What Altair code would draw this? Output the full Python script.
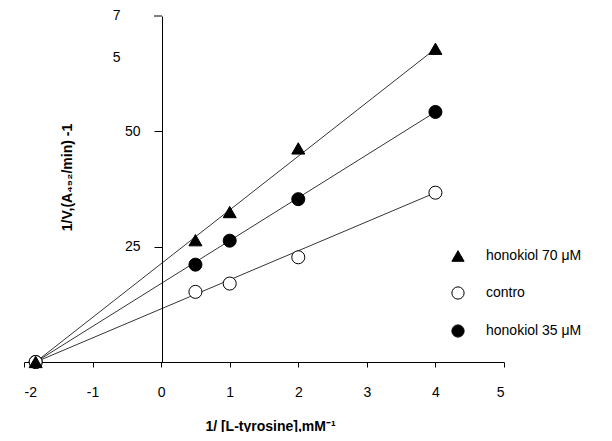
import altair as alt
import pandas as pd

# Data (Lineweaver-Burk plot)
series_names = ["honokiol 35 \u03bcM", "contro", "honokiol 70 \u03bcM"]
x_inv_s = [-1.83, 0.5, 1, 2, 4]
y_35 = [0, 21.1, 26.3, 35.3, 54.2]
y_ctrl = [0, 15.2, 17.0, 22.7, 36.7]
y_70 = [0, 26.4, 32.5, 46.3, 67.9]

# fitted line endpoints (x-intercept to last point)
line_x = [-1.83, 4]
line_35 = [0, 54.2]
line_ctrl = [0, 36.7]
line_70 = [0, 67.9]

legend_order = ["honokiol 70 \u03bcM", "contro", "honokiol 35 \u03bcM"]
shape_range = ["triangle-up", "circle", "circle"]
fill_range = ["black", "white", "black"]
stroke_range = ["black", "black", "black"]

x_ticks = [-2, -1, 0, 1, 2, 3, 4, 5]
y_ticks = [25, 50, 75]

# odd scanned labels near the top of the y axis
ann_text = ["7", "5"]
ann_x = [-0.65, -0.65]
ann_y = [75, 65.8]

rows = []
for name, ys in zip(series_names, [y_35, y_ctrl, y_70]):
    for xv, yv in zip(x_inv_s, ys):
        rows.append({"series": name, "x": xv, "y": yv})
pts = pd.DataFrame(rows)

lrows = []
for name, ys in zip(series_names, [line_35, line_ctrl, line_70]):
    for xv, yv in zip(line_x, ys):
        lrows.append({"series": name, "x": xv, "y": yv})
lines = pd.DataFrame(lrows)

ann = pd.DataFrame({"t": ann_text, "x": ann_x, "y": ann_y})

xscale = alt.Scale(domain=[-2, 5], nice=False, zero=False)
yscale = alt.Scale(domain=[0, 75], nice=False)

xaxis = alt.Axis(
    values=x_ticks, grid=False, domainColor="black", tickColor="black",
    tickSize=5, labelPadding=18, labelFontSize=14, labelColor="black",
    labelFont="Liberation Sans", labelExpr="'' + datum.value",
    title="1/ [L-tyrosine],mM\u207b\u00b9",
    titleFont="Liberation Sans", titleFontSize=14, titleFontWeight="bold",
    titleColor="black", titleX=246, titleY=64, titleBaseline="middle",
)
yaxis = alt.Axis(
    values=[25, 50], grid=False, domainColor="black", tickColor="black",
    tickSize=8, labelPadding=14, labelFontSize=14, labelColor="black",
    labelFont="Liberation Sans", offset=-138,
    title="1/V,(A\u2084\u2089\u2082/min) -1", titleFont="Liberation Sans",
    titleFontSize=14, titleFontWeight="bold", titleColor="black",
    titleX=-95, titleY=161, titleAngle=-90, titleAlign="center",
    titleBaseline="middle",
)

line_layer = alt.Chart(lines).mark_line(color="black", strokeWidth=0.8).encode(
    x=alt.X("x:Q", scale=xscale, axis=xaxis),
    y=alt.Y("y:Q", scale=yscale, axis=yaxis),
    detail="series:N",
)

# y tick at 75 without label
tick75 = alt.Chart(pd.DataFrame({"y": [75]})).mark_rule(color="black").encode(
    y=alt.Y("y:Q", scale=yscale),
    x=alt.value(130), x2=alt.value(138),
)

legend = alt.Legend(
    title=None, orient="none", legendX=427, legendY=233,
    symbolSize=150, labelFontSize=14, labelFont="Liberation Sans",
    labelColor="black", rowPadding=20, labelOffset=21,
    symbolStrokeWidth=1,
)

point_layer = alt.Chart(pts).mark_point(
    size=170, strokeWidth=1, opacity=1
).encode(
    x=alt.X("x:Q", scale=xscale),
    y=alt.Y("y:Q", scale=yscale),
    shape=alt.Shape("series:N", scale=alt.Scale(domain=legend_order, range=shape_range), legend=legend),
    fill=alt.Fill("series:N", scale=alt.Scale(domain=legend_order, range=fill_range), legend=legend),
    stroke=alt.Stroke("series:N", scale=alt.Scale(domain=legend_order, range=stroke_range), legend=legend),
)

ann_layer = alt.Chart(ann).mark_text(
    fontSize=14, font="Liberation Sans", color="black", align="center", baseline="middle"
).encode(
    x=alt.X("x:Q", scale=xscale),
    y=alt.Y("y:Q", scale=yscale),
    text="t:N",
)

chart = alt.layer(line_layer, tick75, point_layer, ann_layer).properties(
    width=480, height=346,
    autosize=alt.AutoSizeParams(type="none"),
    padding={"left": 16, "top": 8, "right": 100, "bottom": 70},
    background="white",
).configure_view(stroke=None)

chart.save("out.html", embed_options={"renderer": "svg", "actions": False})
